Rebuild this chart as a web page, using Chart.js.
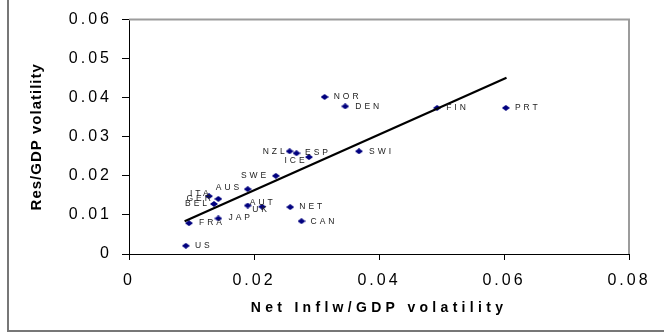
<!DOCTYPE html>
<html lang="en">
<head>
<meta charset="utf-8">
<title>Res/GDP vs Net Inflw/GDP volatility</title>
<script src="https://cdn.jsdelivr.net/npm/chart.js@4.4.1/dist/chart.umd.min.js"></script>
<style>
  * { box-sizing:border-box; margin:0; padding:0 }
  html, body { width:664px; height:335px; overflow:hidden; background:#fff; }
  #wrap { position:relative; width:664px; height:335px; }
  #chart { position:absolute; left:0; top:0; }
  #frame {
    position:absolute; left:7px; top:-10px;
    width:700px; height:342px;
    border-left:2px solid #777; border-bottom:2px solid #777;
    pointer-events:none;
  }
</style>
</head>
<body>
<div id="wrap">
  <canvas id="chart" width="664" height="335"></canvas>
  <div id="frame"></div>
</div>
<script>
// country codes and the two volatility measures
const countries = ['US', 'FRA', 'JAP', 'ITA', 'GER', 'BEL', 'AUS', 'AUT', 'UK', 'NET',
                   'CAN', 'SWE', 'NZL', 'ICE', 'ESP', 'SWI', 'NOR', 'DEN', 'FIN', 'PRT'];
const netInflowVol = [0.0091, 0.0096, 0.0143, 0.0128, 0.0143, 0.0136, 0.0190, 0.0190, 0.0213, 0.0258,
                      0.0276, 0.0235, 0.0257, 0.0268, 0.0288, 0.0368, 0.0313, 0.0346, 0.0493, 0.0603];
const resVol       = [0.0021, 0.0079, 0.0091, 0.0148, 0.0141, 0.0128, 0.0166, 0.0124, 0.0121, 0.0120,
                      0.0084, 0.0200, 0.0263, 0.0258, 0.0248, 0.0263, 0.0402, 0.0378, 0.0374, 0.0374];

// fitted line, drawn between the smallest and largest x
const trendX = [0.0089, 0.0604];
const trendY = [0.0084, 0.0451];

const xTickLabels = ['0', '0.02', '0.04', '0.06', '0.08'];
const yTickLabels = ['0', '0.01', '0.02', '0.03', '0.04', '0.05', '0.06'];

// where each country code sits next to its marker: [left edge dx, centre dy] in px
const labelShift = [[9, 0], [10, 0], [10, -1], [-19, -3], [-32, 0], [-29, 0], [-32, -1], [2, -3], [-10, 3], [9, 0],
                    [9, 0], [-35, 0], [-27, 0], [-12, 7], [-4, -4], [10, 0], [9, 0], [10, 0], [9, 0], [9, 0]];

const FONT = '"Liberation Sans", Arial, sans-serif';
Chart.defaults.font.family = FONT;
Chart.defaults.color = '#000';

function diamond(w, h, color) {
  const c = document.createElement('canvas');
  c.width = w; c.height = h;
  const g = c.getContext('2d');
  g.fillStyle = color;
  g.beginPath();
  g.moveTo(w / 2, 0); g.lineTo(w, h / 2); g.lineTo(w / 2, h); g.lineTo(0, h / 2);
  g.closePath();
  g.fill();
  return c;
}

// wrap a scale's draw step so its text gets extra tracking
function spaceOut(scale, method, gap) {
  const base = Object.getPrototypeOf(scale)[method];
  scale[method] = function (...args) {
    const ctx = this.ctx;
    const prev = ctx.letterSpacing;
    ctx.letterSpacing = gap;
    base.apply(this, args);
    ctx.letterSpacing = prev;
  };
}

const tracking = {
  id: 'tracking',
  beforeDraw(chart) {
    const { x, y } = chart.scales;
    spaceOut(x, 'drawLabels', '3px');
    spaceOut(y, 'drawLabels', '3px');
    spaceOut(x, 'drawTitle', '4.3px');
    spaceOut(y, 'drawTitle', '1px');
  }
};

// grey border on the top and right of the plot area
const plotFrame = {
  id: 'plotFrame',
  beforeDatasetsDraw(chart) {
    const { ctx, chartArea: a } = chart;
    ctx.save();
    ctx.strokeStyle = '#9c9c9c';
    ctx.lineWidth = 2;
    ctx.beginPath();
    ctx.moveTo(a.left, a.top);
    ctx.lineTo(a.right, a.top);
    ctx.lineTo(a.right, a.bottom);
    ctx.stroke();
    ctx.restore();
  }
};

const countryLabels = {
  id: 'countryLabels',
  afterDatasetsDraw(chart) {
    const ctx = chart.ctx;
    const meta = chart.getDatasetMeta(1);
    ctx.save();
    ctx.font = '8.5px ' + FONT;
    ctx.letterSpacing = '3px';
    ctx.fillStyle = '#222';
    ctx.textAlign = 'left';
    ctx.textBaseline = 'middle';
    meta.data.forEach((pt, i) => {
      const [dx, dy] = labelShift[i];
      ctx.fillText(countries[i], pt.x + dx, pt.y + dy);
    });
    ctx.restore();
  }
};

new Chart(document.getElementById('chart'), {
  type: 'scatter',
  data: {
    datasets: [
      {
        type: 'line',
        data: trendX.map((x, i) => ({ x, y: trendY[i] })),
        borderColor: '#000',
        borderWidth: 2.2,
        pointRadius: 0,
        fill: false
      },
      {
        data: netInflowVol.map((x, i) => ({ x, y: resVol[i] })),
        pointStyle: diamond(8, 6, '#00007f'),
        backgroundColor: '#00007f'
      }
    ]
  },
  options: {
    responsive: false,
    animation: false,
    devicePixelRatio: 1,
    events: [],
    layout: { padding: { left: 0, top: 15, right: 35, bottom: 0 } },
    plugins: { legend: { display: false }, tooltip: { enabled: false } },
    scales: {
      x: {
        type: 'linear',
        min: 0, max: 0.08,
        afterFit: s => { s.height = 81; },
        ticks: {
          stepSize: 0.02,
          autoSkip: false,
          maxRotation: 0,
          padding: 11,
          font: { size: 16 },
          color: '#000',
          callback: (v, i) => xTickLabels[i]
        },
        grid: { drawOnChartArea: false, drawTicks: true, tickLength: 6, color: '#000' },
        border: { color: '#000', width: 1 },
        title: {
          display: true,
          text: 'Net Inflw/GDP volatility',
          font: { size: 14, weight: 'bold' },
          color: '#000',
          padding: { top: 0, bottom: 18 }
        }
      },
      y: {
        type: 'linear',
        min: 0, max: 0.06,
        afterFit: s => { s.width = 129; },
        ticks: {
          stepSize: 0.01,
          autoSkip: false,
          padding: 10,
          font: { size: 16 },
          color: '#000',
          callback: (v, i) => yTickLabels[i]
        },
        grid: { drawOnChartArea: false, drawTicks: true, tickLength: 7, color: '#000' },
        border: { color: '#000', width: 1 },
        title: {
          display: true,
          text: 'Res/GDP volatility',
          font: { size: 15, weight: 'bold' },
          color: '#000',
          padding: { top: 28, bottom: 0 }
        }
      }
    }
  },
  plugins: [tracking, plotFrame, countryLabels]
});
</script>
</body>
</html>
